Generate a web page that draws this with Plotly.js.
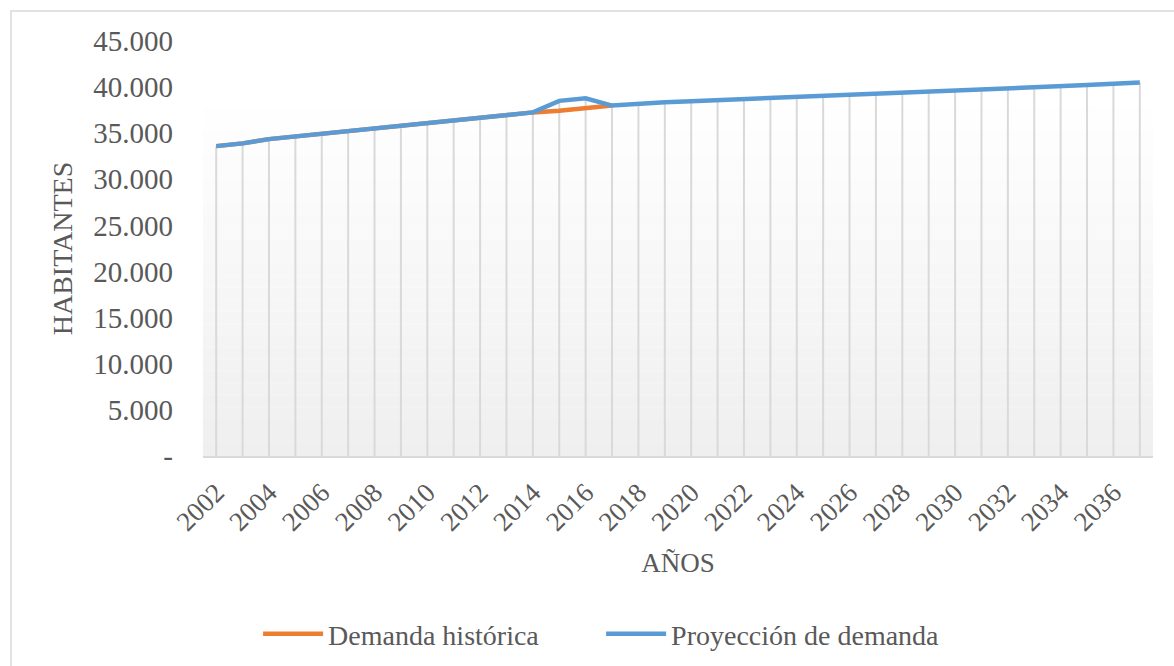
<!DOCTYPE html>
<html>
<head>
<meta charset="utf-8">
<script src="https://cdn.plot.ly/plotly-3.0.1.min.js"></script>
<style>html,body{margin:0;padding:0;background:#fff;}#chart{width:1174px;height:666px;}</style>
</head>
<body>
<div id="chart"></div>
<script>
const years = ['2002','2003','2004','2005','2006','2007','2008','2009','2010','2011','2012','2013',
  '2014','2015','2016','2017','2018','2019','2020','2021','2022','2023','2024','2025','2026',
  '2027','2028','2029','2030','2031','2032','2033','2034','2035','2036','2037'];
const historicalYears = ['2002','2003','2004','2005','2006','2007','2008','2009','2010','2011',
  '2012','2013','2014','2015','2016','2017'];
const historicalDemand = [33600, 33900, 34360, 34650, 34940, 35270, 35520, 35850, 36130, 36420,
  36710, 36960, 37260, 37430, 37760, 38000];
const projectedDemand = [33600, 33900, 34360, 34650, 34940, 35270, 35520, 35850, 36130, 36420,
  36710, 36960, 37260, 38510, 38780, 38000, 38230, 38370, 38480, 38590, 38700, 38810, 38920,
  39020, 39130, 39280, 39400, 39490, 39600, 39710, 39820, 39970, 40110, 40220, 40360, 40510];
const xTickLabels = ['2002','2004','2006','2008','2010','2012','2014','2016','2018','2020',
  '2022','2024','2026','2028','2030','2032','2034','2036'];
const yTickValues = [0, 5000, 10000, 15000, 20000, 25000, 30000, 35000, 40000, 45000];
const yTickText = ['-', '5.000', '10.000', '15.000', '20.000', '25.000', '30.000', '35.000', '40.000', '45.000'];

// drop lines from axis to highest point of each year
const dropX = [], dropY = [];
years.forEach((yr, i) => {
  const hIdx = historicalYears.indexOf(yr);
  const top = Math.max(projectedDemand[i], hIdx >= 0 ? historicalDemand[hIdx] : -Infinity);
  dropX.push(yr, yr, null);
  dropY.push(0, top, null);
});

const FONT = 'Liberation Serif, Times New Roman, serif';
const GREY = '#595959';

const traces = [
  {x: dropX, y: dropY, type: 'scatter', mode: 'lines', showlegend: false,
   line: {color: '#d9d9d9', width: 2}, hoverinfo: 'skip'},
  {x: historicalYears, y: historicalDemand, type: 'scatter', mode: 'lines',
   name: 'Demanda histórica', line: {color: '#ED7D31', width: 4.5}},
  {x: years, y: projectedDemand, type: 'scatter', mode: 'lines',
   name: 'Proyección de demanda', line: {color: '#5B9BD5', width: 4.5}}
];

// gradient plot background bands (style only)
const shapes = [];
const nBands = 30, gTop = 0.87;
for (let b = 0; b < nBands; b++) {
  const t = b / (nBands - 1);
  const c = Math.round(239 + (255 - 239) * t);
  shapes.push({type: 'rect', xref: 'paper', yref: 'paper', x0: 0, x1: 1,
    y0: gTop * b / nBands, y1: gTop * (b + 1) / nBands, layer: 'below',
    line: {width: 0}, fillcolor: `rgb(${c},${c},${c})`});
}
// outer chart border
shapes.push({type: 'rect', xref: 'paper', yref: 'paper', x0: -0.2021, x1: 1.04,
  y0: -0.55, y1: 1.0723, layer: 'below', line: {color: '#d9d9d9', width: 1.5},
  fillcolor: 'rgba(0,0,0,0)'});

const layout = {
  width: 1174, height: 666,
  margin: {l: 203, r: 21, t: 41, b: 210, autoexpand: false},
  paper_bgcolor: '#ffffff', plot_bgcolor: 'rgba(0,0,0,0)',
  font: {family: FONT, color: GREY, size: 28},
  showlegend: true,
  legend: {orientation: 'h', xref: 'container', yref: 'container',
    x: 0.512, xanchor: 'center', y: 0.048, yanchor: 'middle',
    entrywidth: 268, entrywidthmode: 'pixels',
    font: {family: FONT, color: GREY, size: 28}, itemwidth: 60, traceorder: 'normal'},
  xaxis: {type: 'category', range: [-0.5, years.length - 0.5],
    tickmode: 'array', tickvals: xTickLabels, ticktext: xTickLabels,
    tickangle: -45, ticks: '', showgrid: false, zeroline: false,
    showline: true, linecolor: '#d9d9d9', linewidth: 2,
    ticklabelstandoff: 8,
    tickfont: {family: FONT, color: GREY, size: 27},
    title: {text: 'AÑOS', font: {family: FONT, color: GREY, size: 27}, standoff: 17},
    automargin: false},
  yaxis: {range: [0, 45000], tickmode: 'array', tickvals: yTickValues, ticktext: yTickText,
    ticks: '', showgrid: false, zeroline: false, showline: false,
    ticklabelstandoff: 29,
    tickfont: {family: FONT, color: GREY, size: 29},
    title: {text: 'HABITANTES', font: {family: FONT, color: GREY, size: 28}, standoff: 12},
    automargin: false},
  shapes: shapes
};

Plotly.newPlot('chart', traces, layout, {staticPlot: true, displayModeBar: false});
</script>
</body>
</html>
